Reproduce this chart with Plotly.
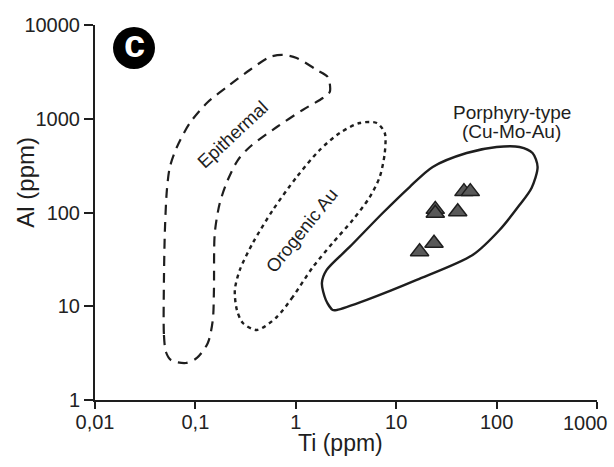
import plotly.graph_objects as go

# ---------------- data (Ti ppm, Al ppm) ----------------
x_tickvals = [0.01, 0.1, 1, 10, 100, 1000]
x_ticktext = ["0,01", "0,1", "1", "10", "100", ""]
x_last_label = "1000"
y_tickvals = [1, 10, 100, 1000, 10000]
y_ticktext = ["1", "10", "100", "1000", "10000"]

epithermal_ti = [0.0486, 0.0486, 0.0509, 0.0570, 0.0804, 0.1035, 0.133, 0.149, 0.153, 0.156,
                 0.175, 0.210, 0.265, 0.348, 0.647, 1.17, 1.86, 2.18, 2.08, 1.62, 1.02,
                 0.743, 0.551, 0.348, 0.206, 0.130, 0.0881, 0.0655, 0.0557, 0.0520, 0.0497, 0.0486]
epithermal_al = [19.1, 4.93, 3.25, 2.67, 2.48, 2.81, 4.06, 7.13, 14.9, 60.4,
                 126, 222, 363, 500, 817, 1240, 1665, 1930, 2790, 3310, 4450,
                 4790, 4560, 3310, 2180, 1472, 901, 500, 306, 174, 65, 19.1]

orogenic_ti = [1.48, 0.933, 0.647, 0.409, 0.297, 0.259, 0.247, 0.277, 0.373, 0.590, 1.02,
               1.73, 2.74, 4.33, 6.40, 7.69, 7.69, 6.85, 5.45, 3.69, 2.33, 1.48]
orogenic_al = [26.2, 12.6, 7.68, 5.58, 6.63, 9.12, 14.9, 24.4, 47.3, 106, 239,
               464, 705, 901, 901, 705, 431, 239, 146, 83.2, 47.3, 26.2]

porphyry_ti = [2.33, 2.56, 5.09, 16.0, 57.7, 107, 169, 223, 256, 228, 169, 100, 50.3,
               23.1, 13.6, 7.34, 3.44, 2.03, 1.82, 1.99, 2.33]
porphyry_al = [9.12, 9.12, 11.7, 19.1, 35.2, 65.1, 120, 183, 306, 431, 500, 500, 431,
               306, 187, 98.8, 42.9, 24.4, 17.7, 11.7, 9.12]

samples_ti = [47.3, 54.7, 24.5, 24.5, 41.0, 23.8, 17.1]
samples_al = [167, 167, 108, 98, 102, 46.9, 38.2]

FONT = "Liberation Sans, Arial, Helvetica, sans-serif"
INK = "#1e1e1e"

fig = go.Figure()

fig.add_trace(go.Scatter(x=epithermal_ti, y=epithermal_al, mode="lines",
                         line=dict(color=INK, width=2.2, dash="10px,7px", shape="spline", smoothing=0.8),
                         hoverinfo="skip", showlegend=False))
fig.add_trace(go.Scatter(x=orogenic_ti, y=orogenic_al, mode="lines",
                         line=dict(color=INK, width=2.4, dash="4px,4px", shape="spline", smoothing=0.8),
                         hoverinfo="skip", showlegend=False))
fig.add_trace(go.Scatter(x=porphyry_ti, y=porphyry_al, mode="lines",
                         line=dict(color=INK, width=2.4, shape="spline", smoothing=0.8),
                         hoverinfo="skip", showlegend=False))
fig.add_trace(go.Scatter(x=samples_ti, y=samples_al, mode="markers",
                         marker=dict(symbol="triangle-up", size=16, color="#595959",
                                     line=dict(color=INK, width=1.5)),
                         showlegend=False))

axis_common = dict(type="log", showline=True, linecolor=INK, linewidth=2, ticks="outside",
                   tickwidth=2, tickcolor=INK, showgrid=False, zeroline=False,
                   automargin=False,
                   tickfont=dict(family=FONT, size=20, color="#222"))

fig.update_xaxes(range=[-2, 3], tickvals=x_tickvals, ticktext=x_ticktext, ticklen=7,
                 ticklabelstandoff=-4, **axis_common)
fig.update_yaxes(range=[0, 4], tickvals=y_tickvals, ticktext=y_ticktext, ticklen=9, **axis_common)

annotations = [
    dict(x=3, y=0, xref="x", yref="paper", text=x_last_label, showarrow=False,
         font=dict(family=FONT, size=20, color="#222"), xanchor="right", yanchor="top",
         xshift=13, yshift=-10),
    dict(x=0.49, y=-0.074, xref="paper", yref="paper", text="Ti (ppm)", showarrow=False,
         font=dict(family=FONT, size=23, color=INK), xanchor="center", yanchor="top"),
    dict(x=-0.139, y=0.58, xref="paper", yref="paper", text="Al (ppm)", showarrow=False,
         font=dict(family=FONT, size=24, color=INK), textangle=-90, xanchor="center", yanchor="middle"),
    dict(x=-0.632, y=2.837, xref="x", yref="y", text="Epithermal", showarrow=False, textangle=-43,
         font=dict(family=FONT, size=18.5, color=INK)),
    dict(x=0.057, y=1.806, xref="x", yref="y", text="Orogenic Au", showarrow=False, textangle=-51,
         font=dict(family=FONT, size=18.5, color=INK)),
    dict(x=2.149, y=3.066, xref="x", yref="y", text="Porphyry-type", showarrow=False,
         font=dict(family=FONT, size=19, color=INK)),
    dict(x=2.149, y=2.866, xref="x", yref="y", text="(Cu-Mo-Au)", showarrow=False,
         font=dict(family=FONT, size=19, color=INK)),
    dict(x=0.0777, y=0.9387, xref="paper", yref="paper", text="<b>c</b>", showarrow=False,
         font=dict(family=FONT, size=38, color="white"), xanchor="center", yanchor="middle", yshift=4),
]

shapes = [
    dict(type="circle", xref="paper", yref="paper", xsizemode="pixel", ysizemode="pixel",
         xanchor=0.0777, yanchor=0.9387, x0=-21, x1=21, y0=-21, y1=21,
         fillcolor="black", line=dict(color="black", width=0)),
]

fig.update_layout(width=614, height=467, margin=dict(l=95, r=17, t=25, b=67, autoexpand=False),
                  paper_bgcolor="white", plot_bgcolor="white",
                  annotations=annotations, shapes=shapes, showlegend=False)

fig.write_html("out.html", config={"displayModeBar": False},
               post_script="document.body.style.margin='0';document.body.style.padding='0';")
